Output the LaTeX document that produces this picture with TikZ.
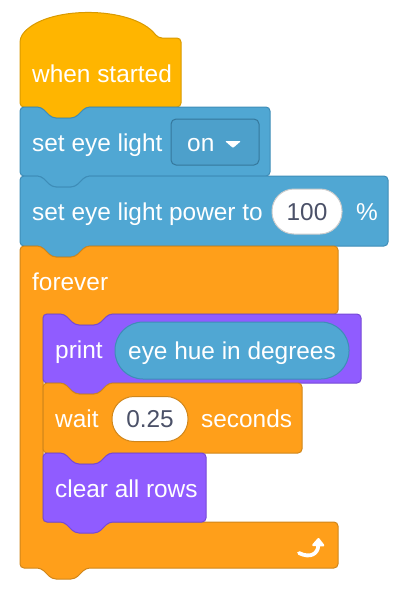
\documentclass[tikz,border=0pt]{standalone}
\usepackage{fontspec}
\setmainfont{Liberation Sans}
\usetikzlibrary{arrows.meta}

\definecolor{hatyellow}{HTML}{FFB500}
\definecolor{hatedge}{HTML}{D99A00}
\definecolor{ctrlorange}{HTML}{FF9F1A}
\definecolor{ctrledge}{HTML}{D0861A}
\definecolor{eyeblue}{HTML}{50A7D3}
\definecolor{eyeedge}{HTML}{3E8DB8}
\definecolor{printpurple}{HTML}{905CFF}
\definecolor{printedge}{HTML}{7649D6}
\definecolor{valuegrey}{HTML}{4B5168}

\begin{document}
\begin{tikzpicture}[x=1pt,y=-1pt,line join=round,
  hatblock/.style={fill=hatyellow,draw=hatedge,line width=1pt,rounded corners=4pt},
  ctrlblock/.style={fill=ctrlorange,draw=ctrledge,line width=1pt,rounded corners=4pt},
  eyeblock/.style={fill=eyeblue,draw=eyeedge,line width=1pt,rounded corners=4pt},
  printblock/.style={fill=printpurple,draw=printedge,line width=1pt,rounded corners=4pt},
  blocktext/.style={text=white,font=\fontsize{24.4}{28}\selectfont,inner sep=0pt,anchor=base west},
  numoval/.style={fill=white,line width=1pt,rounded corners=22pt,minimum height=45pt,
    inner sep=0pt,text height=17pt,text depth=0pt,text=valuegrey,font=\fontsize{24.4}{28}\selectfont},
  reporter/.style={fill=eyeblue,draw=eyeedge,line width=1pt,rounded corners=28pt,minimum width=234pt,
    minimum height=57pt,inner sep=0pt,text height=17pt,text depth=0pt,text=white,font=\fontsize{24.4}{28}\selectfont},
  dropbox/.style={fill=eyeblue!96!black,draw=eyeedge!85!black,line width=1pt,rounded corners=5pt,
    minimum width=88pt,minimum height=46pt,inner sep=0pt}]
  \useasboundingbox (0,0) rectangle (418,592);

  % when started (hat)
  \draw[hatblock] (20,107) -- (20,38) .. controls (43,5) and (133,5) .. (158,38) -- (181,38)
    -- (181,107) -- (86,107) -- (75,118) -- (52,118) -- (41,107) -- cycle;
  \node[blocktext] (started) at (32,82) {when started};

  % set eye light [on]
  \draw[eyeblock] (20,176) -- (20,107) -- (41,107) -- (52,118) -- (75,118) -- (86,107) -- (270,107)
    -- (270,176) -- (86,176) -- (75,187) -- (52,187) -- (41,176) -- cycle;
  \node[blocktext] (eyelight) at (32,151) {set eye light};
  \node[dropbox] (onmenu) at (215,142) {};
  \node[blocktext] (ontext) at (187,151) {on};
  \fill[white,rounded corners=1pt] (225,141) -- (241,141) -- (233,148) -- cycle;

  % set eye light power to (100) %
  \draw[eyeblock] (20,246) -- (20,176) -- (41,176) -- (52,187) -- (75,187) -- (86,176) -- (388,176)
    -- (388,246) -- (86,246) -- (75,257) -- (52,257) -- (41,246) -- cycle;
  \node[blocktext] (eyepower) at (32,220) {set eye light power to};
  \node[numoval,draw=black!20,minimum width=70pt] (powerval) at (307,211.5) {100};
  \node[blocktext] (percent) at (356,220) {\%};

  % forever (C block)
  \draw[ctrlblock] (20,568) -- (20,246) -- (41,246) -- (52,257) -- (75,257) -- (86,246) -- (338,246)
    -- (338,314) -- (109,314) -- (98,325) -- (75,325) -- (64,314) -- (43,314)
    -- (43,522) -- (338,522) -- (338,568) -- (86,568) -- (75,579) -- (52,579) -- (41,568) -- cycle;
  \node[blocktext] (forever) at (32,290) {forever};
  \draw[white,line width=3.8pt,line cap=round,-{Triangle[width=14pt,length=9pt,round]}]
    (299,553) .. controls (311,559) and (318,553) .. (318.5,538);

  % print (eye hue in degrees)
  \draw[printblock] (43,383) -- (43,314) -- (64,314) -- (75,325) -- (98,325) -- (109,314) -- (361,314)
    -- (361,383) -- (109,383) -- (98,394) -- (75,394) -- (64,383) -- cycle;
  \node[blocktext] (print) at (55,358) {print};
  \node[reporter] (huereport) at (232,350.5) {eye hue in degrees};

  % wait (0.25) seconds
  \draw[ctrlblock] (43,453) -- (43,383) -- (64,383) -- (75,394) -- (98,394) -- (109,383) -- (302,383)
    -- (302,453) -- (109,453) -- (98,464) -- (75,464) -- (64,453) -- cycle;
  \node[blocktext] (wait) at (55,427) {wait};
  \node[numoval,draw=ctrledge,minimum width=76pt] (waitval) at (150,419) {0.25};
  \node[blocktext] (seconds) at (201,427) {seconds};

  % clear all rows
  \draw[printblock] (43,522) -- (43,453) -- (64,453) -- (75,464) -- (98,464) -- (109,453) -- (206,453)
    -- (206,522) -- (109,522) -- (98,533) -- (75,533) -- (64,522) -- cycle;
  \node[blocktext] (clearrows) at (55,497) {clear all rows};
\end{tikzpicture}
\end{document}
